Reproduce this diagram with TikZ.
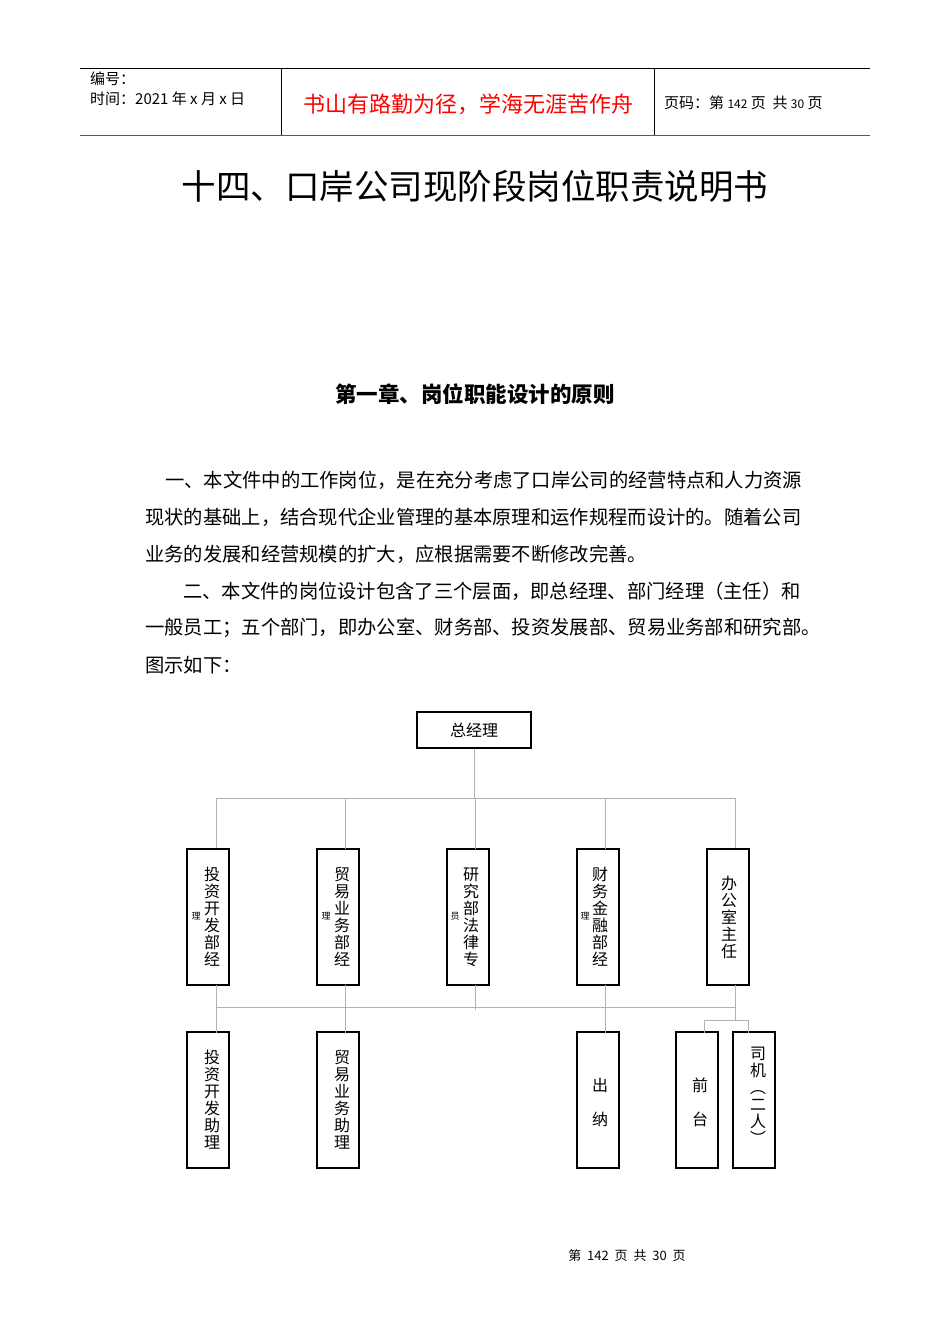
\documentclass[tikz,border=0pt]{standalone}
\usepackage{fontspec}
\setmainfont{Noto Sans CJK SC}
\begin{document}
\begin{tikzpicture}[x=1pt,y=-1pt,
  hdr/.style={anchor=west,inner sep=0pt,font=\fontsize{15}{15}\selectfont},
  para/.style={anchor=west,inner sep=0pt,font=\fontsize{19.3}{19.3}\selectfont},
  box/.style={draw=black,line width=1.3pt,minimum width=42pt,inner sep=0pt},
  vbox/.style={box,minimum height=136pt},
  vtxt/.style={align=center,inner sep=0pt,font=\fontsize{16}{17}\selectfont},
  conn/.style={draw=gray!60,line width=0.8pt},
  frag/.style={inner sep=0pt,font=\fontsize{9}{9}\selectfont}]
\useasboundingbox (0,0) rectangle (950,1344);
\fill[white] (0,0) rectangle (950,1344);
% header
\draw[line width=0.8pt] (80,68) -- (870,68);
\draw[line width=1pt,gray!70!black] (80,135) -- (870,135);
\draw[line width=0.8pt] (281,68) -- (281,135);
\draw[line width=0.8pt] (654,68) -- (654,135);
\node[hdr] (h1) at (90,79) {编号：};
\node[hdr] (h2) at (90,99) {时间：2021 年 x 月 x 日};
\node[inner sep=0pt,text=red,font=\fontsize{22}{22}\selectfont] (h3) at (468,104) {书山有路勤为径，学海无涯苦作舟};
\node[hdr] (h4) at (664,103) {页码：第 {\fontsize{12}{12}\selectfont 142} 页\ \ 共 {\fontsize{12}{12}\selectfont 30} 页};
% title
\node[inner sep=0pt,font=\fontsize{34.5}{34.5}\selectfont] (title) at (475,186) {十四、口岸公司现阶段岗位职责说明书};
\node[inner sep=0pt,font=\fontsize{21.5}{21.5}\selectfont\bfseries] (ch) at (475,394) {第一章、岗位职能设计的原则};
\node[para] (p1) at (165,480) {一、本文件中的工作岗位，是在充分考虑了口岸公司的经营特点和人力资源};
\node[para] (p2) at (145,517) {现状的基础上，结合现代企业管理的基本原理和运作规程而设计的。随着公司};
\node[para] (p3) at (145,554) {业务的发展和经营规模的扩大，应根据需要不断修改完善。};
\node[para] (p4) at (183,591) {二、本文件的岗位设计包含了三个层面，即总经理、部门经理（主任）和};
\node[para] (p5) at (145,628) {一般员工；五个部门，即办公室、财务部、投资发展部、贸易业务部和研究部。};
\node[para] (p6) at (145,665) {图示如下：};
% chart
\node[box,minimum width=114pt,minimum height=36pt,font=\fontsize{16}{16}\selectfont] (gm) at (474,730) {总经理};
\coordinate (hl) at (216,798); \coordinate (hr) at (735,798);
\node[vbox] (b1) at (208,917) {}; \node[vtxt] at (212,917) {投\\资\\开\\发\\部\\经};
\node[vbox] (b2) at (338,917) {}; \node[vtxt] at (342,917) {贸\\易\\业\\务\\部\\经};
\node[vbox] (b3) at (468,917) {}; \node[vtxt] at (471,917) {研\\究\\部\\法\\律\\专};
\node[vbox] (b4) at (598,917) {}; \node[vtxt] at (600,917) {财\\务\\金\\融\\部\\经};
\node[vbox] (b5) at (728,917) {}; \node[vtxt] at (729,917) {办\\公\\室\\主\\任};
\node[frag] at (196,916) {理}; \node[frag] at (326,916) {理};
\node[frag] at (455,916) {员}; \node[frag] at (585,916) {理};
\node[vbox] (c1) at (208,1100) {}; \node[vtxt] at (212,1100) {投\\资\\开\\发\\助\\理};
\node[vbox] (c2) at (338,1100) {}; \node[vtxt] at (342,1100) {贸\\易\\业\\务\\助\\理};
\node[vbox] (c4) at (598,1100) {}; \node[vtxt,font=\fontsize{16}{34}\selectfont] at (600,1102) {出\\纳};
\node[vbox] (c5) at (697,1100) {}; \node[vtxt,font=\fontsize{16}{34}\selectfont] at (700,1102) {前\\台};
\node[vbox] (c6) at (754,1100) {}; \node[vtxt,font=\fontsize{16}{17}\selectfont] at (758,1096) {司\\机\\︵\\二\\人\\︶};
\draw[conn] (gm.south) -- (474,798);
\draw[conn] (hl) -- (hr);
\draw[conn] (hl) -- (hl|-b1.north); \draw[conn] (345,798) -- (345,849);
\draw[conn] (475,798) -- (475,849); \draw[conn] (605,798) -- (605,849);
\draw[conn] (hr) -- (hr|-b5.north);
\coordinate (ll) at (216,1007); \coordinate (lr) at (735,1007);
\draw[conn] (ll) -- (lr);
\draw[conn] (216,985) -- (216,1033); \draw[conn] (345,985) -- (345,1033);
\draw[conn] (475,985) -- (475,1010); \draw[conn] (605,985) -- (605,1033);
\draw[conn] (735,985) -- (735,1020);
\draw[conn] (704,1033) -- (704,1020) -- (748,1020) -- (748,1033);
% footer
\node[inner sep=0pt,font=\fontsize{13}{13}\selectfont] (ft) at (627,1256) {第\ \ 142\ \ 页\ \ 共\ \ 30\ \ 页};
\end{tikzpicture}
\end{document}
